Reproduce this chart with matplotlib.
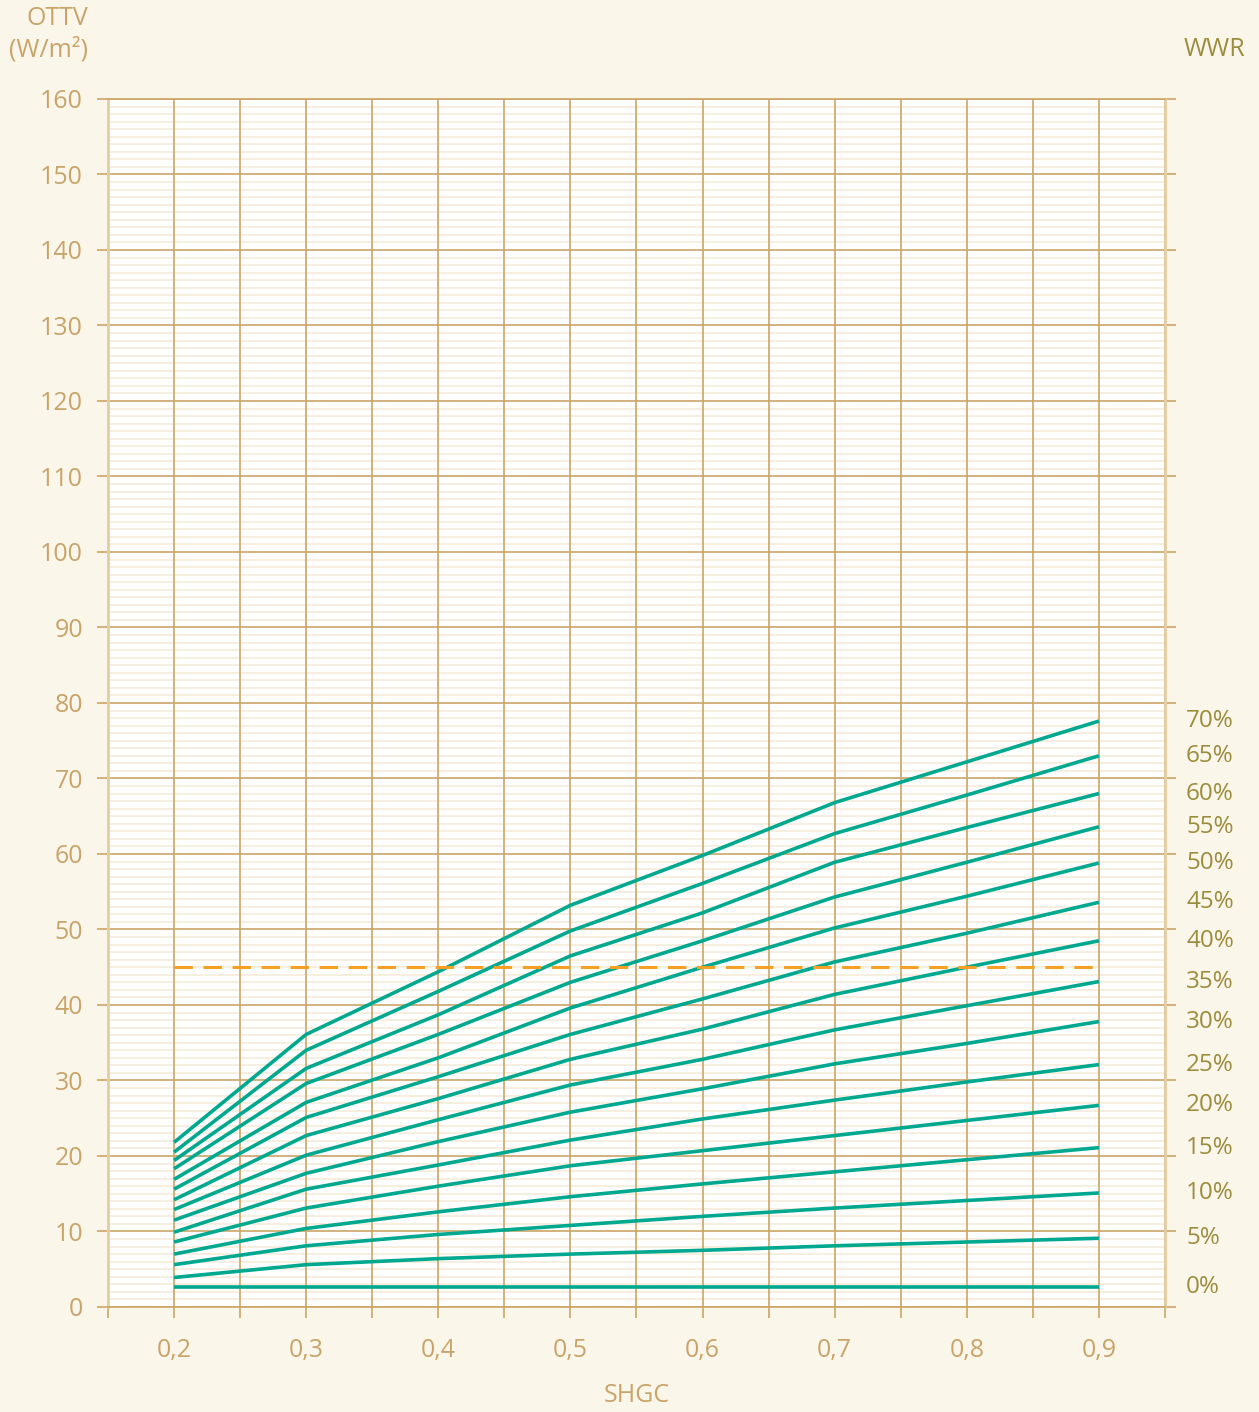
import matplotlib.pyplot as plt
import matplotlib.transforms as mtransforms
from matplotlib.ticker import MultipleLocator, FuncFormatter

plt.rcParams['font.family'] = ['Open Sans', 'DejaVu Sans']

# SHGC values where the curves were read
shgc = [0.2, 0.3, 0.4, 0.5, 0.6, 0.7, 0.8, 0.9]

# OTTV (W/m2) per window-to-wall ratio
wwr_labels = ['70%', '65%', '60%', '55%', '50%', '45%', '40%', '35%',
              '30%', '25%', '20%', '15%', '10%', '5%', '0%']
ottv_70 = [21.8, 36.1, 44.4, 53.2, 59.8, 66.8, 72.2, 77.6]
ottv_65 = [20.5, 34.0, 41.8, 49.8, 56.1, 62.7, 67.8, 73.0]
ottv_60 = [19.4, 31.6, 38.7, 46.5, 52.2, 58.9, 63.5, 68.0]
ottv_55 = [18.3, 29.6, 36.1, 43.0, 48.5, 54.3, 58.9, 63.6]
ottv_50 = [16.9, 27.1, 33.0, 39.6, 45.0, 50.2, 54.4, 58.8]
ottv_45 = [15.6, 25.1, 30.5, 36.1, 40.8, 45.7, 49.5, 53.6]
ottv_40 = [14.2, 22.7, 27.6, 32.8, 36.8, 41.4, 45.0, 48.5]
ottv_35 = [12.9, 20.1, 24.8, 29.4, 32.8, 36.7, 39.9, 43.1]
ottv_30 = [11.5, 17.7, 21.9, 25.8, 28.9, 32.2, 34.9, 37.8]
ottv_25 = [9.9, 15.6, 18.8, 22.1, 24.9, 27.4, 29.8, 32.1]
ottv_20 = [8.6, 13.1, 16.0, 18.7, 20.7, 22.7, 24.7, 26.7]
ottv_15 = [7.0, 10.4, 12.6, 14.6, 16.3, 17.9, 19.5, 21.1]
ottv_10 = [5.6, 8.1, 9.6, 10.8, 12.0, 13.1, 14.1, 15.1]
ottv_05 = [3.9, 5.6, 6.4, 7.0, 7.5, 8.1, 8.6, 9.1]
ottv_00 = [2.6, 2.6, 2.6, 2.6, 2.6, 2.6, 2.6, 2.6]
series = [ottv_70, ottv_65, ottv_60, ottv_55, ottv_50, ottv_45, ottv_40, ottv_35,
          ottv_30, ottv_25, ottv_20, ottv_15, ottv_10, ottv_05, ottv_00]

# OTTV limit (dashed)
limit_x = [0.2, 0.9]
limit_value = 45

bg = '#FBF6EA'
gold = '#CBA567'
light = '#F6EEDC'
tan = '#C9A46A'
olive = '#9C8C3E'
teal = '#00A88F'
orange = '#F5A023'

fig = plt.figure(figsize=(12.59, 14.12), dpi=100, facecolor=bg)
ax = fig.add_axes([0.0858, 0.0744, 0.8395, 0.8555])
ax.set_facecolor('white')

ax.set_xlim(0.15, 0.95)
ax.set_ylim(0, 160)

# grid: light minor rows under the gold major grid
ax.xaxis.set_major_locator(MultipleLocator(0.05))
ax.yaxis.set_major_locator(MultipleLocator(10))
ax.yaxis.set_minor_locator(MultipleLocator(1))
ax.grid(which='minor', axis='y', color=light, linewidth=1.3)
ax.grid(which='major', axis='both', color=gold, linewidth=1.2)
ax.set_axisbelow(True)
ax.xaxis.set_zorder(0.8)

def xfmt(v, pos):
    k = round(v * 100)
    if k % 10 == 0 and 20 <= k <= 90:
        return ('%.1f' % v).replace('.', ',')
    return ''

ax.xaxis.set_major_formatter(FuncFormatter(xfmt))
ax.tick_params(axis='x', which='major', direction='out', length=8, width=1.2,
               color=gold, labelcolor=tan, labelsize=18, pad=14)
ax.tick_params(axis='y', which='major', direction='out', length=8, width=1.2,
               color=gold, labelcolor=tan, labelsize=18, pad=10,
               left=True, right=True, labelleft=True, labelright=False)
ax.tick_params(axis='y', which='minor', length=0)

for side in ['top', 'bottom']:
    ax.spines[side].set_color(gold)
    ax.spines[side].set_linewidth(1.2)
for side in ['left', 'right']:
    ax.spines[side].set_color('#E2CDA4')
    ax.spines[side].set_linewidth(2.0)

# WWR curves
for vals in series:
    ax.plot(shgc, vals, color=teal, linewidth=2.6, solid_capstyle='butt',
            solid_joinstyle='round', zorder=3)

ax.plot(limit_x, [limit_value, limit_value], color=orange, linewidth=2.2,
        dashes=(6, 3.5), zorder=4)

# right-hand WWR labels at the line ends
trans = mtransforms.blended_transform_factory(ax.transAxes, ax.transData)
for lab, vals in zip(wwr_labels, series):
    ax.text(1.02, vals[-1], lab, transform=trans, ha='left', va='center',
            fontsize=17.5, color=olive)

fig.text(0.0699, 0.987, 'OTTV', ha='right', va='center', fontsize=18, color=tan)
fig.text(0.0699, 0.9646, '(W/m²)', ha='right', va='center', fontsize=18, color=tan)
fig.text(0.965, 0.9646, 'WWR', ha='center', va='center', fontsize=18, color=olive)
fig.text(0.506, 0.012, 'SHGC', ha='center', va='center', fontsize=18, color=tan)

fig.savefig('out.png', dpi=100, facecolor=bg)
